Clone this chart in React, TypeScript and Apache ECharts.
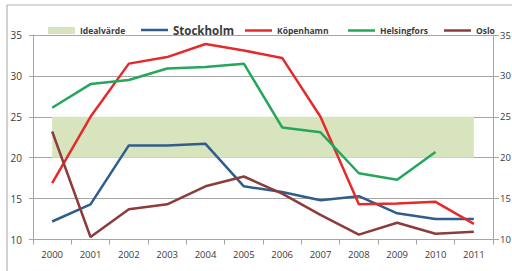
import React, { useEffect, useRef } from "react";
import * as echarts from "echarts";

const years = ["2000","2001","2002","2003","2004","2005","2006","2007","2008","2009","2010","2011"];
const idealLow = [20,20,20,20,20,20,20,20,20,20,20,20];
const idealBand = [5,5,5,5,5,5,5,5,5,5,5,5];
const stockholm = [12.2,14.3,21.5,21.5,21.7,16.5,15.8,14.8,15.3,13.2,12.5,12.5];
const kopenhamn = [16.9,25,31.5,32.3,33.9,33.1,32.2,25,14.3,14.4,14.6,11.9];
const helsingfors = [26.1,29,29.5,30.9,31.1,31.5,23.7,23.1,18.1,17.3,20.7,null];
const oslo = [23.2,10.3,13.7,14.3,16.5,17.7,15.6,13.0,10.6,12.05,10.7,10.95];

const FONT = "'Open Sans', 'Liberation Sans', sans-serif";
const TXT = "#3a3a3a";
const GRID = "#a6a6a6";

export default function App() {
  const ref = useRef<HTMLDivElement>(null);
  useEffect(() => {
    const chart = echarts.init(ref.current!, null, { renderer: "svg" });
    const lineSeries = (name: string, data: any[], color: string) => ({
      name,
      type: "line",
      data,
      symbol: "none",
      smooth: false,
      connectNulls: false,
      lineStyle: { color, width: 2.5 },
      itemStyle: { color },
      z: 3,
    });
    const legendItem = (name: string, left: number, size: number, isBand?: boolean) => ({
      left,
      top: size > 10 ? 19 : 21,
      itemWidth: 27,
      itemHeight: isBand ? 7 : 2.5,
      itemGap: 0,
      icon: "rect",
      data: [name],
      textStyle: { fontFamily: FONT, fontSize: size, fontWeight: "bold", color: TXT },
      selectedMode: false,
    });
    chart.setOption({
      animation: false,
      textStyle: { fontFamily: FONT },
      graphic: [
        {
          type: "rect",
          shape: { x: 7, y: 5, width: 520, height: 300 },
          style: { fill: "none", stroke: "#b5b5b5", lineWidth: 1.2 },
          silent: true,
        },
      ],
      legend: [
        legendItem("Idealvärde", 43, 8.5, true),
        legendItem("Stockholm", 136, 11.5),
        legendItem("Köpenhamn", 240, 8.5),
        legendItem("Helsingfors", 343, 8.5),
        legendItem("Oslo", 439, 8.5),
      ],
      grid: { left: 33, right: 19, top: 35, bottom: 31.5, containLabel: false, outerBoundsMode: "none" },
      xAxis: {
        type: "category",
        data: years,
        boundaryGap: true,
        axisLine: { lineStyle: { color: GRID, width: 1 } },
        axisTick: { show: true, length: 5, lineStyle: { color: GRID } },
        axisLabel: { color: TXT, fontSize: 9.5, margin: 10, fontFamily: FONT },
        splitLine: { show: false },
      },
      yAxis: [
        {
          type: "value",
          min: 10,
          max: 35,
          interval: 5,
          axisLine: { show: true, lineStyle: { color: GRID, width: 1 } },
          axisTick: { show: true, length: 4, lineStyle: { color: GRID } },
          axisLabel: { color: TXT, fontSize: 10, margin: 11, fontFamily: FONT },
          splitLine: { show: true, lineStyle: { color: GRID, width: 1 } },
        },
        {
          type: "value",
          min: 10,
          max: 35,
          interval: 5,
          position: "right",
          axisLine: { show: true, lineStyle: { color: GRID, width: 1 } },
          axisTick: { show: true, length: 6, lineStyle: { color: GRID } },
          axisLabel: { color: TXT, fontSize: 9.5, margin: 7, fontFamily: FONT },
          splitLine: { show: false },
        },
      ],
      series: [
        {
          name: "base",
          type: "line",
          stack: "band",
          data: idealLow,
          symbol: "none",
          lineStyle: { width: 0, opacity: 0 },
          silent: true,
          z: 1,
        },
        {
          name: "Idealvärde",
          type: "line",
          stack: "band",
          data: idealBand,
          symbol: "none",
          lineStyle: { width: 0, opacity: 0 },
          itemStyle: { color: "#d7e4bd" },
          areaStyle: { color: "#d7e4bd", opacity: 1 },
          silent: true,
          z: 1,
        },
        lineSeries("Stockholm", stockholm, "#2f5d8c"),
        lineSeries("Köpenhamn", kopenhamn, "#e62a2c"),
        lineSeries("Helsingfors", helsingfors, "#24a65b"),
        lineSeries("Oslo", oslo, "#8e3b3b"),
      ],
    });
    return () => chart.dispose();
  }, []);
  return (
    <div
      ref={ref}
      style={{ position: "fixed", left: 0, top: 0, width: 512, height: 271, background: "#fff" }}
    />
  );
}
